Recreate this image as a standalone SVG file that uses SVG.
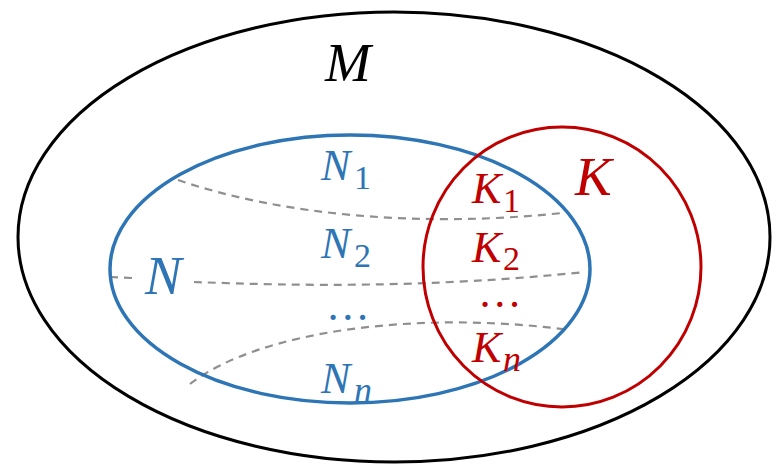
<svg xmlns="http://www.w3.org/2000/svg" width="780" height="471" viewBox="0 0 780 471">
<style>
.t{font-family:"Liberation Serif","DejaVu Serif",serif;font-style:italic}
.big{font-size:55px}
.mid{font-size:44px}
.sub{font-size:34px;font-style:normal}
.subi{font-size:36px}
.blue{fill:#2E75B6}
.red{fill:#C00000}
.dash{fill:none;stroke:#8f8f8f;stroke-width:2.2;stroke-dasharray:8 6}
</style>
<rect width="780" height="471" fill="#fff"/>
<g id="M">
<ellipse cx="394" cy="237" rx="376" ry="225" fill="none" stroke="#000" stroke-width="3"/>
<text class="t big" x="325" y="81" fill="#000">M</text>
</g>
<g id="connectors">
<path class="dash" d="M178,180 C280,215 420,228 562,213"/>
<path class="dash" d="M110,277 L132,278"/>
<path class="dash" d="M194,282 C300,286 430,288 585,272"/>
<path class="dash" d="M190,384 C260,330 420,310 570,330"/>
</g>
<g id="N">
<ellipse cx="350" cy="269" rx="240" ry="134" fill="none" stroke="#2E75B6" stroke-width="3.5"/>
<text class="t big blue" x="145" y="294">N</text>
</g>
<g id="K">
<ellipse cx="562" cy="267" rx="139" ry="140" fill="none" stroke="#C00000" stroke-width="3"/>
<text class="t big red" x="575" y="195">K</text>
</g>
<g id="N1"><text class="t mid blue" x="321" y="180">N<tspan class="sub" x="354" y="189">1</tspan></text></g>
<g id="N2"><text class="t mid blue" x="321" y="258">N<tspan class="sub" x="354" y="267">2</tspan></text></g>
<g id="Ndots"><text class="t mid blue" x="329" y="320" font-style="normal">…</text></g>
<g id="Nn"><text class="t mid blue" x="321" y="393">N<tspan class="subi" x="354" y="402">n</tspan></text></g>
<g id="K1"><text class="t mid red" x="472" y="203">K<tspan class="sub" x="503" y="212">1</tspan></text></g>
<g id="K2"><text class="t mid red" x="472" y="262">K<tspan class="sub" x="503" y="270">2</tspan></text></g>
<g id="Kdots"><text class="t mid red" x="481" y="307" font-style="normal">…</text></g>
<g id="Kn"><text class="t mid red" x="472" y="362">K<tspan class="subi" x="503" y="371">n</tspan></text></g>
</svg>
